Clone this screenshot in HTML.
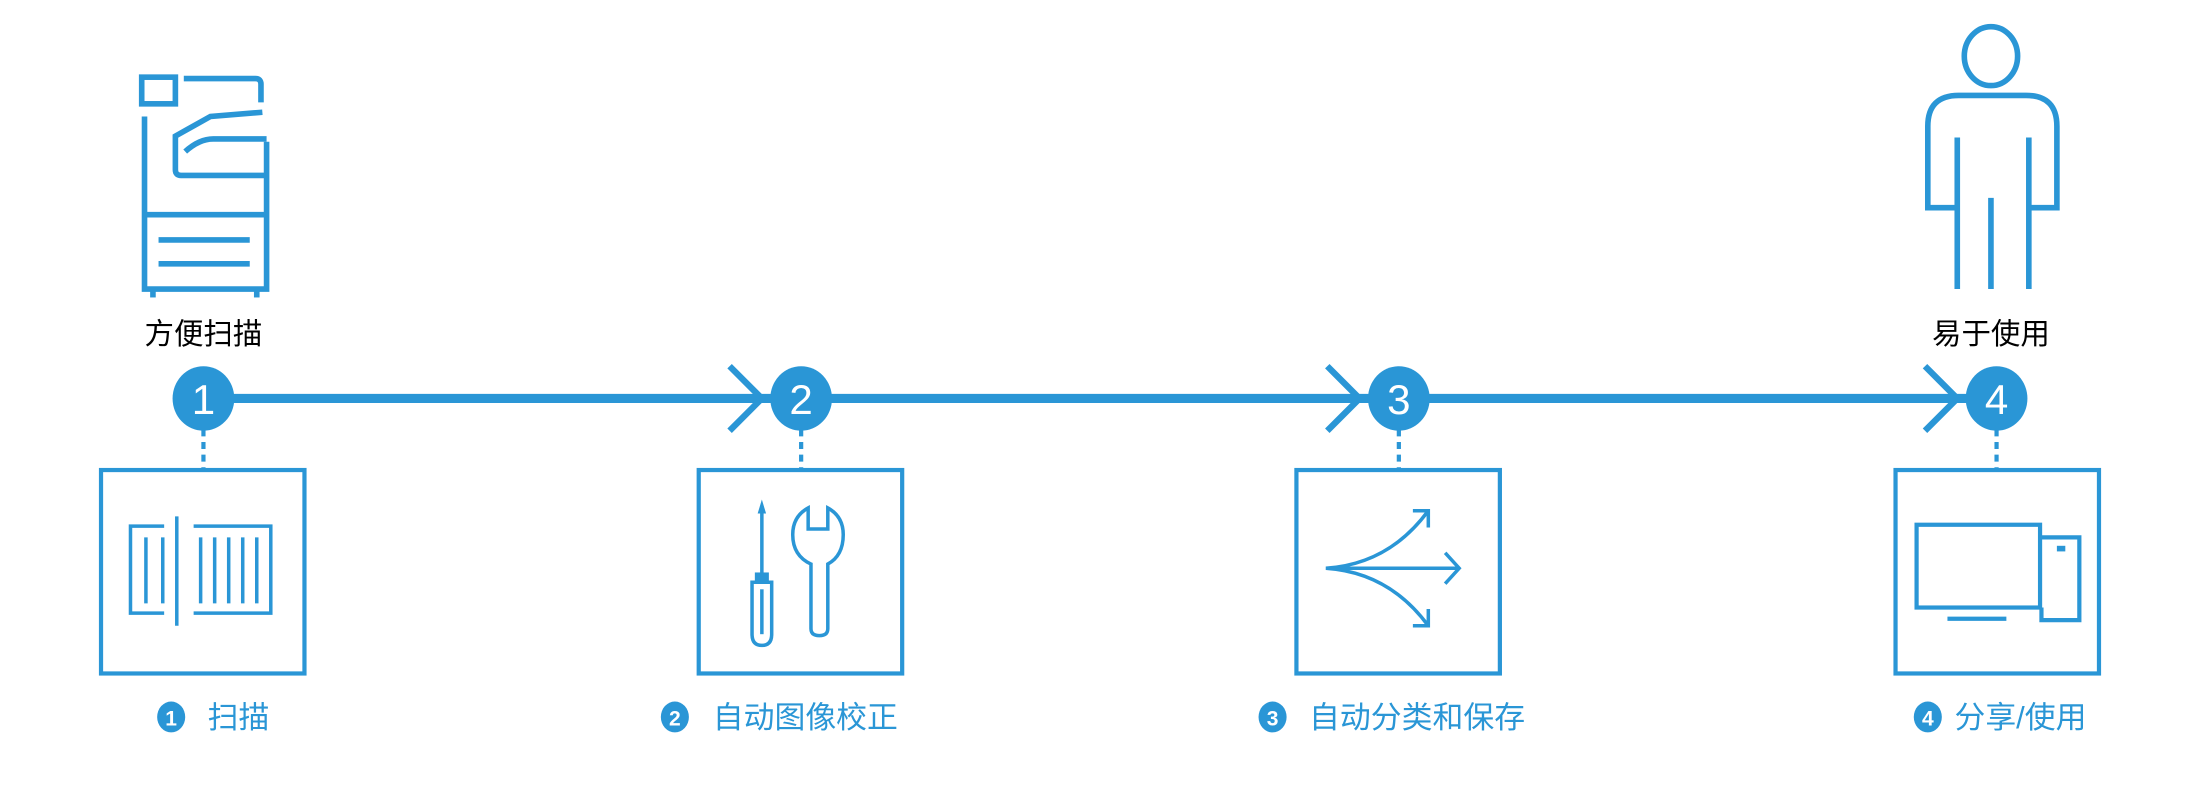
<!DOCTYPE html>
<html><head><meta charset="utf-8"><style>
html,body{margin:0;padding:0;background:#fff;}
svg{display:block;}
text{font-family:"Liberation Sans","Noto Sans CJK SC",sans-serif;}
</style></head><body>
<svg width="2200" height="810" viewBox="0 0 1568 577.3" preserveAspectRatio="none" xmlns="http://www.w3.org/2000/svg">
<g fill="none" stroke="#2a96d6" stroke-width="3.5">
<line x1="150" y1="284" x2="1410" y2="284" stroke-width="6.5"/>
<polyline points="520,261 543,284 520,307" stroke-width="4.5"/>
<polyline points="946,261 969,284 946,307" stroke-width="4.5"/>
<polyline points="1372,261 1395,284 1372,307" stroke-width="4.5"/>
<g stroke-dasharray="5,4" stroke-width="3">
<line x1="145" y1="306" x2="145" y2="334"/><line x1="571" y1="306" x2="571" y2="334"/>
<line x1="997" y1="306" x2="997" y2="334"/><line x1="1423" y1="306" x2="1423" y2="334"/>
</g>
<rect x="72" y="335" width="145" height="145" stroke-width="3"/>
<rect x="498" y="335" width="145" height="145" stroke-width="3"/>
<rect x="924" y="335" width="145" height="145" stroke-width="3"/>
<rect x="1351" y="335" width="145" height="145" stroke-width="3"/>
<g stroke-width="4">
<rect x="101" y="55" width="24" height="19"/>
<path d="M131,56 H182 Q186,56 186,60 V73"/>
<path d="M103,83 V206 H190 V101"/>
<line x1="103" y1="153" x2="190" y2="153"/>
<path d="M187,80 L150,83 L125,97 V121 Q125,125 129,125 H190"/>
<path d="M132,108 Q142,99 152,99 H190"/>
<line x1="113" y1="171" x2="178" y2="171"/>
<line x1="113" y1="188" x2="178" y2="188"/>
<line x1="109" y1="206" x2="109" y2="212"/><line x1="183" y1="206" x2="183" y2="212"/>
</g>
<g stroke-width="4">
<ellipse cx="1419" cy="40" rx="19" ry="21"/>
<path d="M1395,148 H1374 V90 Q1374,68 1396,68 H1444 Q1466,68 1466,90 V148 H1446"/>
<line x1="1395" y1="98" x2="1395" y2="206"/>
<line x1="1446" y1="98" x2="1446" y2="206"/>
<line x1="1419" y1="141" x2="1419" y2="206"/>
</g>
<g stroke-width="2.5">
<polyline points="117,375 93,375 93,437 117,437"/>
<line x1="126" y1="368" x2="126" y2="446"/>
<polyline points="138,375 193,375 193,437 138,437"/>
<line x1="104" y1="383" x2="104" y2="430"/><line x1="116" y1="383" x2="116" y2="430"/>
<line x1="143" y1="383" x2="143" y2="430"/><line x1="153" y1="383" x2="153" y2="430"/>
<line x1="163" y1="383" x2="163" y2="430"/><line x1="173" y1="383" x2="173" y2="430"/>
<line x1="183" y1="383" x2="183" y2="430"/>
</g>
<g stroke-width="2.5">
<line x1="543" y1="362" x2="543" y2="410"/>
<path d="M536,415 V452 Q536,460 543,460 Q550,460 550,452 V415 Z"/>
<line x1="543" y1="420" x2="543" y2="452"/>
<path d="M578,448 V402 Q565,396 565,381 Q565,368 576,362 V377 H590 V362 Q601,368 601,381 Q601,396 590,402 V448 Q590,453 584,453 Q578,453 578,448 Z"/>
</g>
<polygon points="543,356 540,366 546,366" fill="#2a96d6" stroke="none"/>
<rect x="538" y="408" width="10" height="6" fill="#2a96d6" stroke="none"/>
<g stroke-width="2.5">
<line x1="945" y1="405" x2="1039" y2="405"/>
<polyline points="1030,394 1040,405 1030,416"/>
<path d="M945,405 Q990,402 1018,364"/>
<polyline points="1007,364 1018,364 1018,376"/>
<path d="M945,405 Q990,408 1018,446"/>
<polyline points="1007,446 1018,446 1018,434"/>
</g>
<g stroke-width="3">
<rect x="1366" y="374" width="88" height="59"/>
<polyline points="1454,383 1482,383 1482,442 1455,442 1455,433"/>
<line x1="1388" y1="441" x2="1430" y2="441"/>
</g>
<rect x="1466" y="389" width="6" height="4" fill="#2a96d6" stroke="none"/>
</g>
<g fill="#2a96d6">
<ellipse cx="145" cy="284" rx="22" ry="23"/><ellipse cx="571" cy="284" rx="22" ry="23"/>
<ellipse cx="997" cy="284" rx="22" ry="23"/><ellipse cx="1423" cy="284" rx="22" ry="23"/>
<ellipse cx="122" cy="511" rx="10" ry="11"/><ellipse cx="481" cy="511" rx="10" ry="11"/>
<ellipse cx="907" cy="511" rx="10" ry="11"/><ellipse cx="1374" cy="511" rx="10" ry="11"/>
</g>
<g fill="#fff" text-anchor="middle">
<text x="145" y="295" font-size="30">1</text><text x="571" y="295" font-size="30">2</text>
<text x="997" y="295" font-size="30">3</text><text x="1423" y="295" font-size="30">4</text>
<text x="122" y="517" font-size="15" font-weight="bold">1</text><text x="481" y="517" font-size="15" font-weight="bold">2</text>
<text x="907" y="517" font-size="15" font-weight="bold">3</text><text x="1374" y="517" font-size="15" font-weight="bold">4</text>
</g>
<g fill="#000" text-anchor="middle" font-size="21">
<text x="145" y="245">方便扫描</text>
<text x="1419" y="245">易于使用</text>
</g>
<g fill="#2a96d6" font-size="22">
<text x="148" y="519">扫描</text>
<text x="508" y="519">自动图像校正</text>
<text x="933" y="519">自动分类和保存</text>
<text x="1393" y="519">分享/使用</text>
</g>
</svg>
</body></html>
